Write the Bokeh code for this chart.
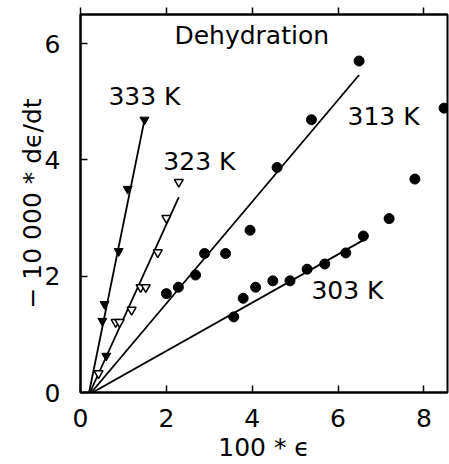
from bokeh.plotting import figure
from bokeh.models import Range1d, LinearAxis, FixedTicker, Label, CustomJSTickFormatter
from bokeh.embed import file_html
from bokeh.resources import INLINE

# ---- data (100*eps, -10000*d eps/dt) ----
x333 = [0.51, 0.56, 0.60, 0.89, 1.10, 1.49]
y333 = [1.23, 1.52, 0.63, 2.43, 3.50, 4.69]

x323 = [0.42, 0.82, 0.91, 1.19, 1.40, 1.52, 1.80, 2.00, 2.29]
y323 = [0.33, 1.21, 1.21, 1.42, 1.81, 1.81, 2.41, 3.00, 3.62]

x313 = [2.00, 2.28, 2.68, 2.89, 3.38, 3.95, 4.58, 5.38, 6.49]
y313 = [1.70, 1.81, 2.02, 2.39, 2.39, 2.79, 3.87, 4.69, 5.70]

x303 = [3.57, 3.79, 4.08, 4.48, 4.88, 5.28, 5.69, 6.18, 6.59, 7.19, 7.79, 8.47]
y303 = [1.30, 1.62, 1.81, 1.92, 1.92, 2.12, 2.21, 2.40, 2.69, 2.99, 3.67, 4.89]

# fitted lines (start, end)
fit333_x = [0.20, 1.48]
fit333_y = [0.0, 4.65]
fit323_x = [0.22, 2.29]
fit323_y = [0.0, 3.36]
fit313_x = [0.25, 6.49]
fit313_y = [0.0, 5.46]
fit303_x = [0.28, 6.59]
fit303_y = [0.0, 2.62]

x_ticks = [0, 2, 4, 6, 8]
y_ticks = [0, 2, 4, 6]

labels = ["333 K", "323 K", "313 K", "303 K", "Dehydration"]
label_x = [1.49, 2.77, 7.06, 6.22, 3.99]
label_y = [5.09, 3.98, 4.74, 1.75, 6.14]

FONT = "DejaVu Sans"
FS = "25px"

p = figure(width=449, height=464, output_backend="svg", toolbar_location=None,
           x_range=Range1d(0, 8.55), y_range=Range1d(0, 6.5),
           min_border_left=80, min_border_right=2, min_border_top=14,
           min_border_bottom=68)
p.background_fill_color = "white"
p.border_fill_color = "white"
p.grid.visible = False
p.outline_line_color = "black"
p.outline_line_width = 2

for ax in (p.xaxis[0], p.yaxis[0]):
    ax.major_tick_in = 7
    ax.major_tick_out = 0
    ax.minor_tick_line_color = None
    ax.axis_line_width = 2
    ax.major_tick_line_width = 1.5
    ax.major_label_text_font = FONT
    ax.major_label_text_font_size = FS
    ax.major_label_text_color = "black"
    ax.axis_label_text_font = FONT
    ax.axis_label_text_font_size = FS
    ax.axis_label_text_font_style = "normal"
    ax.axis_label_text_color = "black"

p.xaxis[0].ticker = FixedTicker(ticks=x_ticks)
p.yaxis[0].ticker = FixedTicker(ticks=y_ticks)
p.xaxis[0].major_label_standoff = 16
p.yaxis[0].major_label_standoff = 20
p.xaxis[0].axis_label = "100 * \u03f5"
p.yaxis[0].axis_label = "\u2212 10 000 * d\u03f5/dt"
p.xaxis[0].axis_label_standoff = 3
p.yaxis[0].axis_label_standoff = -5

top = LinearAxis(ticker=FixedTicker(ticks=x_ticks), major_tick_in=0, major_tick_out=7,
                 minor_tick_line_color=None, axis_line_width=2, major_tick_line_width=1.5,
                 major_label_standoff=0,
                 formatter=CustomJSTickFormatter(code="return '';"))
p.add_layout(top, "above")

lw = 1.8
p.line(fit333_x, fit333_y, line_color="black", line_width=lw)
p.line(fit323_x, fit323_y, line_color="black", line_width=lw)
p.line(fit313_x, fit313_y, line_color="black", line_width=lw)
p.line(fit303_x, fit303_y, line_color="black", line_width=lw)

p.scatter(x333, y333, marker="inverted_triangle", size=9, fill_color="black", line_color="black")
p.scatter(x323, y323, marker="inverted_triangle", size=9, fill_color="white", line_color="black", line_width=1.5)
p.scatter(x313, y313, marker="circle", size=10, fill_color="black", line_color="black")
p.scatter(x303, y303, marker="circle", size=10, fill_color="black", line_color="black")

for t, lx, ly in zip(labels, label_x, label_y):
    p.add_layout(Label(x=lx, y=ly, text=t, text_align="center", text_baseline="middle",
                       text_font=FONT, text_font_size=FS, text_color="black",
                       background_fill_color=None))

open("out.html", "w").write(file_html(p, INLINE))
